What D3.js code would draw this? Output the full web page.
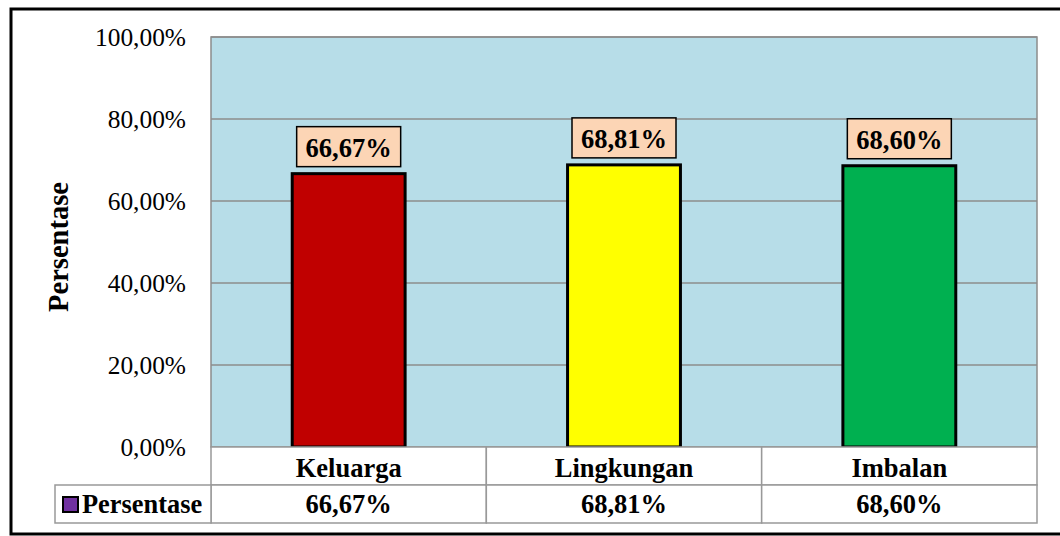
<!DOCTYPE html>
<html lang="en">
<head>
    <meta charset="UTF-8">
    <title>Persentase</title>
    <script src="https://d3js.org/d3.v7.min.js"></script>
    <style>
        body { margin: 0; background: white; }
        svg { font-family: "Liberation Serif", "Times New Roman", serif; }
    </style>
</head>
<body>
<svg width="1060" height="536"></svg>
<script>
    const categories = ["Keluarga", "Lingkungan", "Imbalan"];
    const values = [66.67, 68.81, 68.60];
    const barColors = ["#C00000", "#FFFF00", "#00B050"];
    const yTicks = [0, 20, 40, 60, 80, 100];
    const seriesName = "Persentase";

    const fmt = v => v.toFixed(2).replace(".", ",") + "%";

    const svg = d3.select("svg");
    const plot = { left: 211, right: 1037, top: 37, bottom: 447 };
    const rowH = 38;

    // outer frame
    svg.append("rect")
        .attr("x", 11).attr("y", 9).attr("width", 1070).attr("height", 525)
        .attr("fill", "white").attr("stroke", "black").attr("stroke-width", 3);

    const x = d3.scaleBand().domain(categories).range([plot.left, plot.right]).paddingInner(0.59).paddingOuter(0.295);
    const xCell = d3.scaleBand().domain(categories).range([plot.left, plot.right]);
    const y = d3.scaleLinear().domain([0, 100]).range([plot.bottom, plot.top]);

    svg.append("rect")
        .attr("x", plot.left).attr("y", plot.top)
        .attr("width", plot.right - plot.left).attr("height", plot.bottom - plot.top)
        .attr("fill", "#B7DDE8").attr("stroke", "#8c8c8c").attr("stroke-width", 1.5);

    svg.append("g").selectAll("line").data(yTicks.slice(1)).enter().append("line")
        .attr("x1", plot.left).attr("x2", plot.right)
        .attr("y1", d => y(d)).attr("y2", d => y(d))
        .attr("stroke", "#8c8c8c").attr("stroke-width", 1.5);

    svg.append("g").selectAll("text").data(yTicks).enter().append("text")
        .attr("x", 186).attr("y", d => y(d) + 9)
        .attr("text-anchor", "end").attr("font-size", 25.4)
        .text(d => fmt(d));

    svg.append("text")
        .attr("transform", `translate(68,247) rotate(-90)`)
        .attr("text-anchor", "middle").attr("font-size", 28.5).attr("font-weight", "bold")
        .text(seriesName);

    svg.append("g").selectAll("rect").data(values).enter().append("rect")
        .attr("x", (d, i) => x(categories[i]))
        .attr("y", d => y(d))
        .attr("width", x.bandwidth())
        .attr("height", d => plot.bottom - y(d))
        .attr("fill", (d, i) => barColors[i])
        .attr("stroke", "black").attr("stroke-width", 3);

    // data labels
    const labels = svg.append("g").selectAll("g").data(values).enter().append("g")
        .attr("transform", (d, i) => `translate(${x(categories[i]) + x.bandwidth() / 2},${y(d) - 7})`);
    labels.append("rect")
        .attr("x", -52).attr("y", -40).attr("width", 104).attr("height", 40)
        .attr("fill", "#FCD5B5").attr("stroke", "black").attr("stroke-width", 1.5);
    labels.append("text")
        .attr("y", -10).attr("text-anchor", "middle")
        .attr("font-size", 26.5).attr("font-weight", "bold")
        .text(d => fmt(d));

    // data table
    const table = svg.append("g");
    categories.forEach((c, i) => {
        table.append("rect")
            .attr("x", xCell(c)).attr("y", plot.bottom).attr("width", xCell.bandwidth()).attr("height", rowH)
            .attr("fill", "white").attr("stroke", "#999").attr("stroke-width", 1.5);
        table.append("rect")
            .attr("x", xCell(c)).attr("y", plot.bottom + rowH).attr("width", xCell.bandwidth()).attr("height", rowH)
            .attr("fill", "white").attr("stroke", "#999").attr("stroke-width", 1.5);
        table.append("text")
            .attr("x", xCell(c) + xCell.bandwidth() / 2).attr("y", plot.bottom + 30)
            .attr("text-anchor", "middle").attr("font-size", 26.5).attr("font-weight", "bold")
            .text(c);
        table.append("text")
            .attr("x", xCell(c) + xCell.bandwidth() / 2).attr("y", plot.bottom + rowH + 28)
            .attr("text-anchor", "middle").attr("font-size", 26.5).attr("font-weight", "bold")
            .text(fmt(values[i]));
    });
    table.append("rect")
        .attr("x", 55).attr("y", plot.bottom + rowH).attr("width", plot.left - 55).attr("height", rowH)
        .attr("fill", "white").attr("stroke", "#999").attr("stroke-width", 1.5);
    table.append("rect")
        .attr("x", 63).attr("y", plot.bottom + rowH + 12).attr("width", 15).attr("height", 15)
        .attr("fill", "#7030A0").attr("stroke", "black").attr("stroke-width", 2);
    table.append("text")
        .attr("x", 82).attr("y", plot.bottom + rowH + 28)
        .attr("font-size", 26.4).attr("font-weight", "bold")
        .text(seriesName);
</script>
</body>
</html>
